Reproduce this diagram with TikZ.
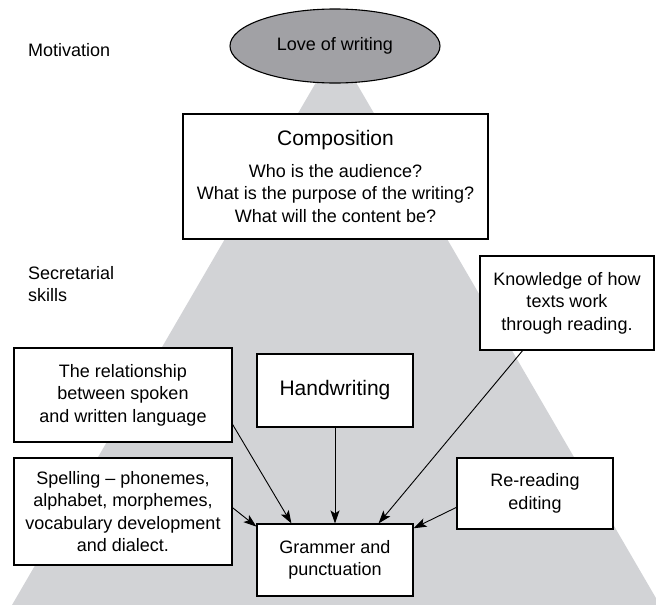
\documentclass[tikz,border=0pt]{standalone}
\usepackage{fontspec}
\setmainfont{Liberation Sans}
\usetikzlibrary{shapes.geometric,arrows.meta}
\definecolor{pyramidgray}{RGB}{210,211,214}
\definecolor{ovalgray}{RGB}{161,161,165}

\begin{document}
\begin{tikzpicture}[x=1pt,y=-1pt,
        skillbox/.style={draw, fill=white, line width=1.1pt, inner sep=0pt, align=center,
                         font=\fontsize{18}{22.5}\selectfont},
        feed/.style={-{Stealth[length=13pt,width=9pt,inset=3pt]}, line width=0.9pt},
        sidelabel/.style={anchor=west, inner sep=0pt, align=left, font=\fontsize{18}{22}\selectfont}]

                \useasboundingbox (0,0) rectangle (656,605);

                % the pyramid behind everything
                \fill [pyramidgray] (336,48) -- (660,605) -- (12,605) -- cycle;

                \node [sidelabel] (motivation) at (28,50) {Motivation};
                \node [sidelabel] (secretarial) at (28,284) {Secretarial\\skills};

                \node [ellipse, draw, fill=ovalgray, line width=1.1pt, minimum width=210pt, minimum height=74pt,
                       inner sep=0pt, font=\fontsize{18}{22}\selectfont] (love) at (335,46) {Love of writing};

                \node [skillbox, minimum width=305pt, minimum height=125pt] (composition) at (335.5,176.5)
                      {{\fontsize{21}{25}\selectfont Composition}\\[9pt]
                       Who is the audience?\\
                       What is the purpose of the writing?\\
                       What will the content be?};

                \node [skillbox, minimum width=174pt, minimum height=94pt] (knowledge) at (567,303)
                      {Knowledge of how\\texts work\\through reading.};
                \node [skillbox, minimum width=218pt, minimum height=94pt] (relation) at (123,395)
                      {The relationship\\between spoken\\and written language};
                \node [skillbox, minimum width=156pt, minimum height=73pt, font=\fontsize{21}{25}\selectfont] (handwriting) at (335,390.5)
                      {Handwriting};
                \node [skillbox, minimum width=218pt, minimum height=107pt] (spelling) at (123,511.5)
                      {Spelling – phonemes,\\alphabet, morphemes,\\vocabulary development\\and dialect.};
                \node [skillbox, minimum width=156pt, minimum height=71pt] (rereading) at (535,493.5)
                      {Re-reading\\editing};
                \node [skillbox, minimum width=156pt, minimum height=72pt] (grammar) at (335,560)
                      {Grammer and\\punctuation};

                % everything feeds into grammar
                \draw [feed] (relation.-15) -- (grammar.140);
                \draw [feed] (spelling.2) -- (grammar.157);
                \draw [feed] (handwriting.south) -- (grammar.north);
                \draw [feed] (knowledge.227.5) -- (grammar.40);
                \draw [feed] (rereading.190) -- (grammar.22);

            \end{tikzpicture}
\end{document}
